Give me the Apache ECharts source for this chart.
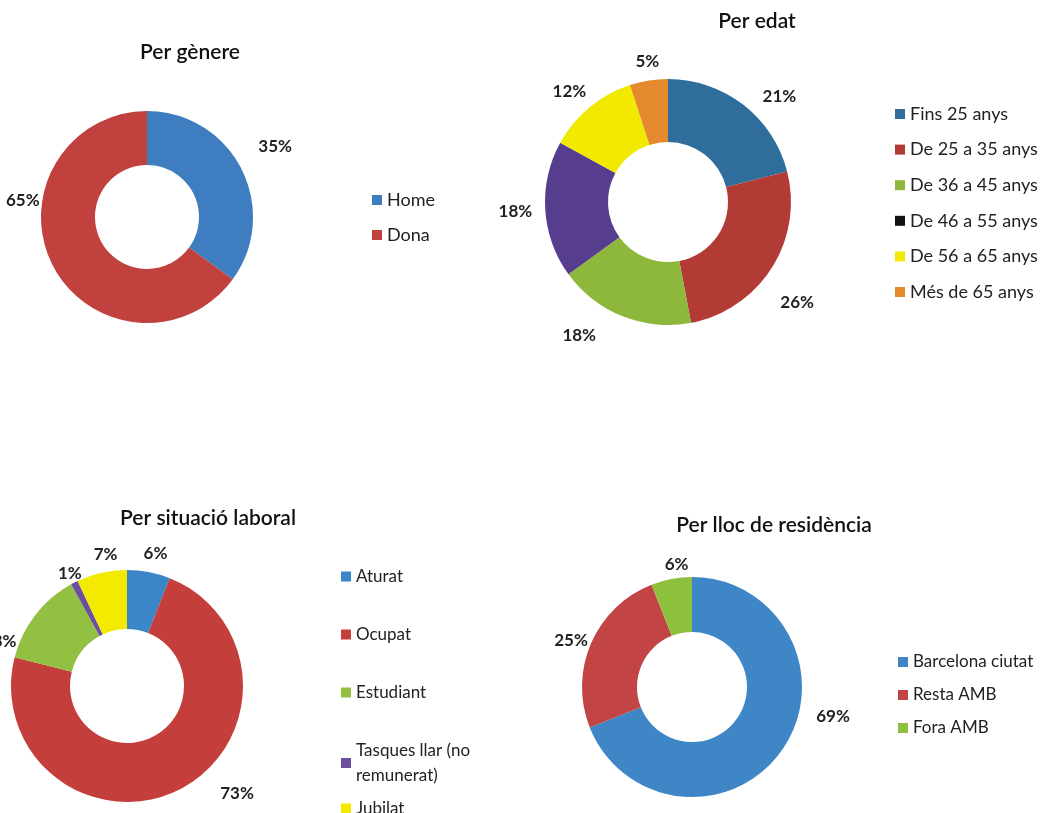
<!DOCTYPE html>
<html>
<head>
<meta charset="utf-8">
<script src="https://cdn.jsdelivr.net/npm/echarts@6/dist/echarts.min.js"></script>
<style>
html,body{margin:0;padding:0;background:#fff;}
#c{width:1044px;height:813px;}
</style>
</head>
<body>
<div id="c"></div>
<script>
// ---- data ----
const genereCats = ['Home', 'Dona'];
const genereVals = [35, 65];

const edatCats = ['Fins 25 anys', 'De 25 a 35 anys', 'De 36 a 45 anys', 'De 46 a 55 anys', 'De 56 a 65 anys', 'Més de 65 anys'];
const edatVals = [21, 26, 18, 18, 12, 5];

const laboralCats = ['Aturat', 'Ocupat', 'Estudiant', 'Tasques llar (no remunerat)', 'Jubilat'];
const laboralVals = [6, 73, 13, 1, 7];

const residenciaCats = ['Barcelona ciutat', 'Resta AMB', 'Fora AMB'];
const residenciaVals = [69, 25, 6];

// ---- styles ----
const FONT = 'Lato, "Open Sans", sans-serif';
const col1 = ['#3e7ec0', '#c1413e'];
const col2 = ['#2f6d9c', '#b23b36', '#8db83c', '#573d8e', '#f2e900', '#e48a2d'];
const col3 = ['#3b86c8', '#c43e3b', '#91c042', '#6a4fa0', '#f4ea00'];
const col4 = ['#3f86c6', '#c34444', '#8dc03c'];

// label nudges (pixel offsets from the library's outside-label placement, "best fit" look)
const nudge1 = [[-3, -18], [7, -69]];
const nudge2 = [[2, 0], [-11, 29], [-12, 10], [8, 1], [14, -8], [23, -9]];
const nudge3 = [[-18, -9], [25, -5], [0, 33], [23, 0], [29, -9]];
const nudge4 = [[14, -38], [17, 1], [30, -5]];

function mk(cats, vals, colors) {
  return cats.map((c, i) => ({ name: c, value: vals[i], itemStyle: { color: colors[i] } }));
}

const labelBase = {
  show: true,
  position: 'outside',
  formatter: p => p.value + '%',
  color: '#222',
  fontFamily: FONT,
  fontWeight: 'bold',
  fontSize: 17
};

function pie(center, radius, data, nudge) {
  return {
    type: 'pie',
    center: center,
    radius: radius,
    startAngle: 90,
    clockwise: true,
    avoidLabelOverlap: false,
    silent: true,
    animation: false,
    label: labelBase,
    labelLine: { show: false, length: 10, length2: 6 },
    labelLayout: p => ({ dx: nudge[p.dataIndex][0], dy: nudge[p.dataIndex][1] }),
    itemStyle: { borderWidth: 0 },
    data: data
  };
}

const legendText = { fontFamily: FONT, fontSize: 17, color: '#222' };
const titleText = { fontFamily: FONT, fontSize: 21, fontWeight: 600, color: '#111' };

const option = {
  backgroundColor: '#fff',
  animation: false,
  title: [
    { text: 'Per gènere', left: 190, top: 42, padding: 0, textAlign: 'center', textStyle: titleText },
    { text: 'Per edat', left: 757, top: 11, padding: 0, textAlign: 'center', textStyle: titleText },
    { text: 'Per situació laboral', left: 208, top: 508, padding: 0, textAlign: 'center', textStyle: titleText },
    { text: 'Per lloc de residència', left: 774, top: 515, padding: 0, textAlign: 'center', textStyle: titleText }
  ],
  legend: [
    { orient: 'vertical', left: 372, top: 191, padding: 0, itemWidth: 10, itemHeight: 10, itemGap: 17, icon: 'rect',
      data: genereCats, textStyle: Object.assign({}, legendText, { fontSize: 18 }), selectedMode: false },
    { orient: 'vertical', left: 895, top: 105, padding: 0, itemWidth: 10, itemHeight: 10, itemGap: 17.6, icon: 'rect',
      data: edatCats.map((c, i) => i === 3 ? { name: c, itemStyle: { color: '#111' } } : c),
      textStyle: Object.assign({}, legendText, { fontSize: 18 }), selectedMode: false },
    { orient: 'vertical', left: 341, top: 564, padding: 0, itemWidth: 10, itemHeight: 10, itemGap: 33, icon: 'rect',
      data: laboralCats.slice(0, 4),
      formatter: n => n.replace('(no ', '(no\n'),
      textStyle: Object.assign({}, legendText, { lineHeight: 25 }), selectedMode: false },
    { orient: 'vertical', left: 341, top: 800, padding: 0, itemWidth: 10, itemHeight: 10, icon: 'rect',
      data: laboralCats.slice(4),
      textStyle: legendText, selectedMode: false },
    { orient: 'vertical', left: 898, top: 653.5, padding: 0, itemWidth: 10, itemHeight: 10, itemGap: 16, icon: 'rect',
      data: residenciaCats, textStyle: legendText, selectedMode: false }
  ],
  series: [
    pie([147, 217], [52, 106], mk(genereCats, genereVals, col1), nudge1),
    pie([668, 202], [60, 123], mk(edatCats, edatVals, col2), nudge2),
    pie([127, 686], [57, 116], mk(laboralCats, laboralVals, col3), nudge3),
    pie([692, 687], [55, 110], mk(residenciaCats, residenciaVals, col4), nudge4)
  ]
};

const chart = echarts.init(document.getElementById('c'), null, { renderer: 'canvas' });
chart.setOption(option);
</script>
</body>
</html>
